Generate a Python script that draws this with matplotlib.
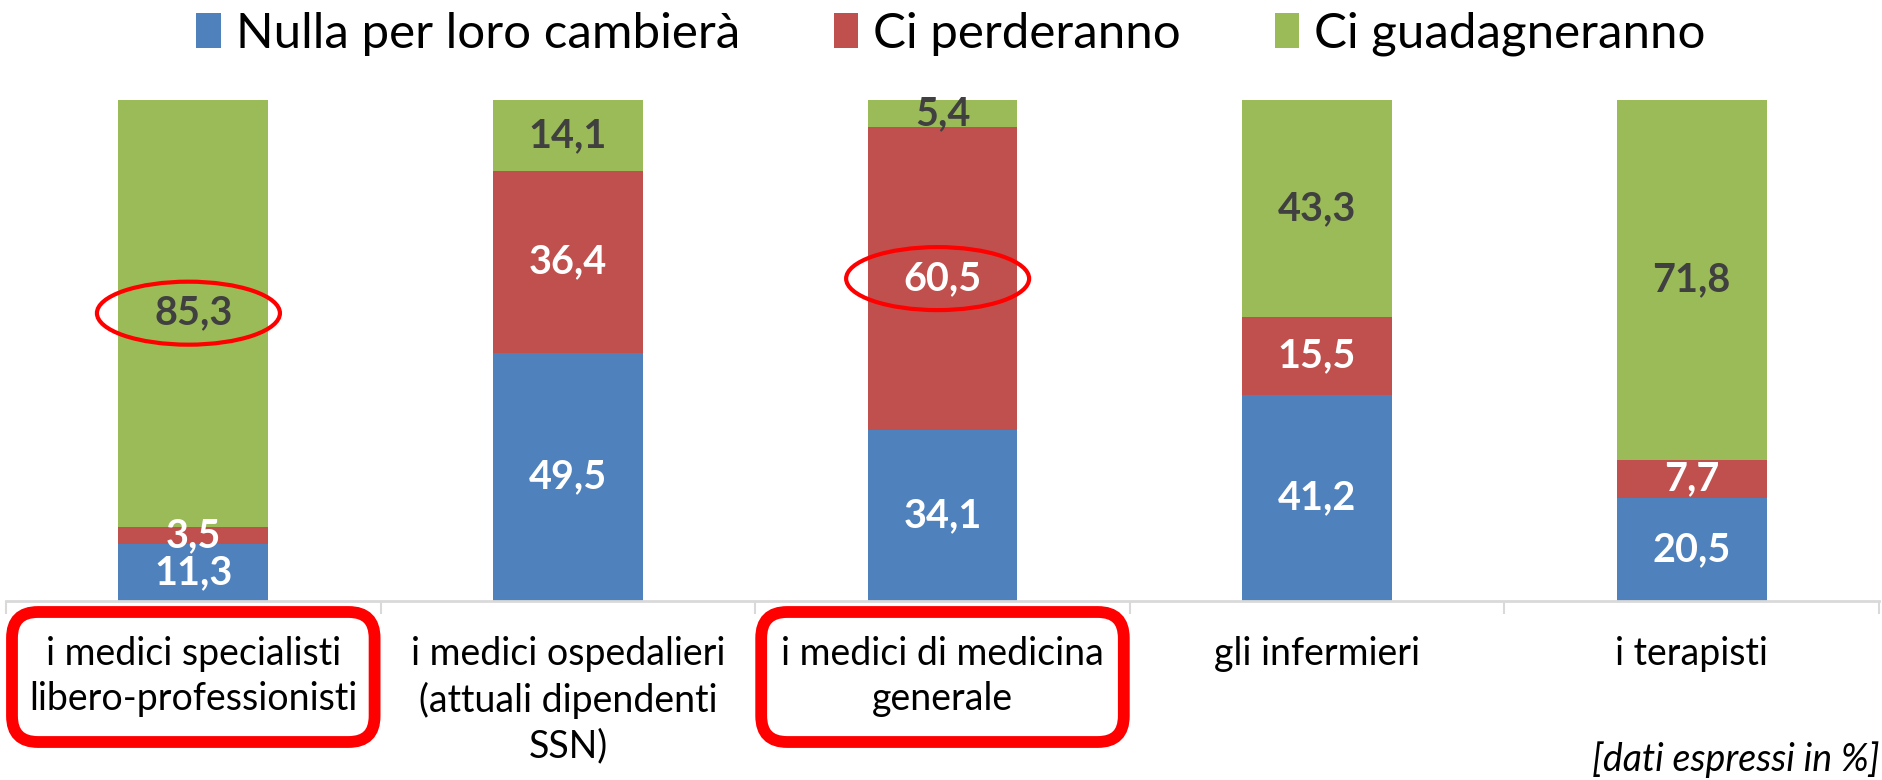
import numpy as np
import matplotlib
matplotlib.use('Agg')
import matplotlib.pyplot as plt
from matplotlib.patches import Ellipse, FancyBboxPatch
from matplotlib.transforms import IdentityTransform

plt.rcParams['font.family'] = ['Lato', 'DejaVu Sans']

categories = ['i medici specialisti\nlibero-professionisti',
              'i medici ospedalieri\n(attuali dipendenti\nSSN)',
              'i medici di medicina\ngenerale',
              'gli infermieri',
              'i terapisti']
series_names = ['Nulla per loro cambierà', 'Ci perderanno', 'Ci guadagneranno']
nulla = [11.3, 49.5, 34.1, 41.2, 20.5]
perderanno = [3.5, 36.4, 60.5, 15.5, 7.7]
guadagneranno = [85.3, 14.1, 5.4, 43.3, 71.8]
colors = ['#4F81BD', '#C0504D', '#9BBB59']
label_colors = ['white', 'white', '#404040']
highlight = [0, 2]              # categories boxed in red
circled = [(0, 2), (2, 1)]      # (category, series) values circled in red

W, H = 1883, 780
fig = plt.figure(figsize=(W / 100, H / 100), dpi=100)
ax = fig.add_axes([6 / W, 1 - 601 / H, 1873 / W, 501 / H])

x = np.arange(len(categories))
series = [nulla, perderanno, guadagneranno]
bottom = np.zeros(len(categories))
handles = []
for vals, col, lc, name in zip(series, colors, label_colors, series_names):
    vals = np.array(vals)
    b = ax.bar(x, vals, 0.4, bottom=bottom, color=col, label=name, zorder=2)
    handles.append(b)
    for xi, v, bo in zip(x, vals, bottom):
        ax.text(xi, bo + v / 2, f'{v:.1f}'.replace('.', ','), ha='center', va='center',
                color=lc, fontsize=28.5, fontweight='bold', zorder=3)
    bottom = bottom + vals

ax.set_xlim(-0.5, len(categories) - 0.5)
ax.set_ylim(0, 100)
for s in ['left', 'right', 'top']:
    ax.spines[s].set_visible(False)
ax.spines['bottom'].set_color('#D9D9D9')
ax.spines['bottom'].set_linewidth(2)
ax.set_yticks([])
ax.set_xticks(x)
ax.set_xticklabels(categories, fontsize=27, linespacing=1.32)
ax.set_xticks(np.arange(-0.5, len(categories)), minor=True)
ax.tick_params(axis='x', which='major', length=0, pad=25)
ax.tick_params(axis='x', which='minor', length=9, width=1.5, color='#D9D9D9')

# red ellipses around the highlighted values
px_x = 1873 / len(categories)
px_y = 501 / 100
for ci, si in circled:
    base = sum(series[k][ci] for k in range(si))
    yc = base + series[si][ci] / 2
    ax.add_patch(Ellipse((ci - 0.013, yc), 183 / px_x, 63 / px_y, fill=False,
                         edgecolor='#FF0000', linewidth=3, zorder=4, clip_on=False))

# red rounded boxes around highlighted category labels
fig.canvas.draw()
for ci in highlight:
    x0 = ax.transData.transform((ci - 0.5, 0))[0]
    x1 = ax.transData.transform((ci + 0.5, 0))[0]
    box = FancyBboxPatch((x0 + 26, 58), (x1 - x0) - 52, 90,
                         boxstyle='round,pad=20,rounding_size=26',
                         fill=False, edgecolor='#FF0000', linewidth=8.5,
                         transform=IdentityTransform(), zorder=5)
    fig.patches.append(box)

fig.legend(handles=handles, labels=series_names, loc='center', bbox_to_anchor=(0.505, 1 - 34 / H),
           ncol=3, frameon=False, fontsize=35.5, handlelength=0.5, handleheight=0.7,
           handletextpad=0.3, columnspacing=1.9)

fig.text(1880 / W, 1 - 760 / H, '[dati espressi in %]', ha='right', va='center',
         fontsize=27, style='italic')

fig.savefig('out.png', dpi=100)
